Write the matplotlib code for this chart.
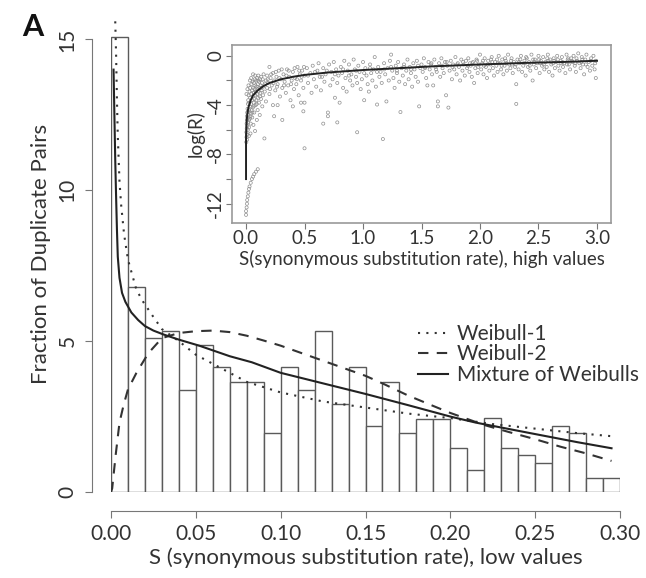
import matplotlib
matplotlib.use("Agg")
import matplotlib.pyplot as plt
from matplotlib.lines import Line2D

plt.rcParams['font.family'] = ['Lato', 'DejaVu Sans']

# histogram: bins of 0.01 on [0, 0.30]
bin_left = [i / 100 for i in range(30)]
bar_heights = [15.07, 6.8, 5.12, 5.33, 3.39, 4.87, 4.15, 3.64, 3.64, 1.94,
               4.15, 3.39, 5.33, 2.91, 4.15, 2.18, 3.64, 1.94, 2.42, 2.42,
               1.45, 0.73, 2.45, 1.45, 1.21, 0.95, 2.18, 1.94, 0.46, 0.46]

# fitted curves
weib1_x = [0.0025, 0.003, 0.0035, 0.004, 0.005, 0.006, 0.0077, 0.01, 0.012, 0.015, 0.019,
           0.025, 0.03, 0.04, 0.05, 0.065, 0.08, 0.1, 0.125, 0.15, 0.175, 0.2, 0.225,
           0.25, 0.275, 0.295]
weib1_y = [15.6, 14.5, 13.0, 11.8, 10.3, 9.5, 8.55, 7.7, 7.3, 6.7, 6.3,
           5.8, 5.4, 5.0, 4.55, 4.1, 3.65, 3.3, 3.0, 2.8, 2.6, 2.45, 2.25,
           2.1, 1.95, 1.85]

weib2_x = [0.0, 0.0007, 0.0027, 0.005, 0.0075, 0.01, 0.015, 0.022, 0.03, 0.04, 0.05,
           0.06, 0.07, 0.08, 0.09, 0.1, 0.11, 0.125, 0.14, 0.15, 0.16, 0.175, 0.19,
           0.2, 0.21, 0.22, 0.235, 0.25, 0.265, 0.28, 0.295]
weib2_y = [0.0, 0.12, 1.2, 2.3, 2.9, 3.4, 3.95, 4.6, 5.1, 5.27, 5.33,
           5.35, 5.3, 5.18, 5.02, 4.85, 4.65, 4.35, 4.05, 3.85, 3.6, 3.2, 2.85,
           2.62, 2.42, 2.22, 1.98, 1.75, 1.5, 1.28, 1.03]

mix_x = [0.0015, 0.002, 0.0025, 0.003, 0.0035, 0.004, 0.005, 0.0065, 0.0085, 0.012,
         0.016, 0.02, 0.025, 0.031, 0.04, 0.052, 0.07, 0.083, 0.1, 0.125, 0.15,
         0.175, 0.2, 0.215, 0.25, 0.275, 0.295]
mix_y = [14.0, 12.5, 11.0, 9.8, 8.7, 7.8, 7.1, 6.6, 6.3, 5.95,
         5.7, 5.5, 5.35, 5.22, 5.05, 4.85, 4.5, 4.3, 3.95, 3.6, 3.25,
         2.88, 2.5, 2.3, 1.92, 1.65, 1.45]

# inset: log(R) against S, high values
inset_tail = [(0.0, -12.9), (0.0, -12.6), (0.005, -12.3), (0.008, -12.0), (0.01, -11.7),
              (0.015, -11.4), (0.02, -11.1), (0.025, -10.8), (0.03, -10.6), (0.04, -10.3),
              (0.05, -10.0), (0.06, -9.8), (0.07, -9.6), (0.085, -9.4), (0.1, -9.2)]
inset_low = [(0.002, -7.0), (0.004, -6.6), (0.003, -6.2), (0.006, -5.9), (0.005, -5.5),
             (0.008, -5.2), (0.007, -4.9), (0.010, -4.6), (0.009, -6.8), (0.012, -6.4),
             (0.011, -5.7), (0.014, -5.1), (0.013, -4.3), (0.016, -3.9), (0.015, -6.0),
             (0.018, -5.4), (0.020, -4.8), (0.019, -3.6), (0.022, -3.2), (0.024, -6.5),
             (0.025, -5.8), (0.027, -4.4), (0.028, -3.8), (0.030, -2.9), (0.032, -5.1),
             (0.033, -4.1), (0.035, -3.4), (0.036, -2.6), (0.038, -6.3), (0.040, -5.5),
             (0.041, -4.7), (0.043, -3.9), (0.045, -3.1), (0.046, -2.3), (0.048, -4.4),
             (0.050, -3.6), (0.052, -2.8), (0.053, -5.0), (0.055, -2.1), (0.057, -4.2),
             (0.058, -3.3), (0.060, -1.5), (0.062, -2.6), (0.063, -5.6), (0.065, -3.8),
             (0.067, -3.0), (0.068, -2.2), (0.070, -4.6), (0.072, -3.5), (0.074, -2.7),
             (0.075, -1.9), (0.077, -6.1), (0.079, -3.2), (0.080, -2.4), (0.082, -4.0),
             (0.084, -2.9), (0.086, -2.0), (0.088, -3.6), (0.090, -2.5), (0.092, -5.2),
             (0.094, -3.1), (0.095, -1.8), (0.097, -2.7), (0.099, -4.4), (0.101, -2.3),
             (0.103, -3.4), (0.105, -1.6), (0.107, -2.9), (0.110, -3.8), (0.112, -2.1),
             (0.115, -2.6), (0.117, -4.8), (0.120, -1.9), (0.122, -3.0), (0.125, -2.4),
             (0.128, -3.5), (0.130, -1.7), (0.133, -2.8), (0.136, -2.2), (0.139, -4.1),
             (0.142, -1.9), (0.145, -3.2), (0.148, -2.5), (0.150, -1.5), (0.157, -6.7),
             (0.004, -3.1), (0.012, -2.7), (0.021, -2.4), (0.034, -2.0), (0.044, -1.8),
             (0.017, -4.5), (0.026, -5.2), (0.039, -4.9), (0.054, -4.6), (0.066, -4.1),
             (0.078, -1.6), (0.091, -3.9), (0.104, -2.0), (0.118, -3.3), (0.131, -2.6)]
inset_mid = [(0.16, -2.9), (0.17, -2.0), (0.17, -3.7), (0.18, -1.6), (0.18, -2.6),
             (0.19, -2.2), (0.20, -0.9), (0.20, -3.1), (0.21, -1.8), (0.22, -2.4),
             (0.23, -4.0), (0.23, -1.4), (0.24, -2.0), (0.24, -4.9), (0.25, -2.8),
             (0.26, -1.7), (0.27, -4.0), (0.27, -2.3), (0.28, -1.2), (0.29, -3.3),
             (0.30, -1.9), (0.31, -5.2), (0.31, -2.6), (0.32, -1.5), (0.33, -2.1),
             (0.34, -3.0), (0.35, -1.1), (0.36, -2.4), (0.37, -1.7), (0.38, -3.6),
             (0.39, -2.0), (0.40, -4.1), (0.40, -1.3), (0.41, -2.7), (0.42, -1.8),
             (0.43, -2.3), (0.44, -0.9), (0.45, -3.2), (0.46, -1.5), (0.47, -3.8),
             (0.47, -2.0), (0.48, -1.2), (0.49, -4.5), (0.49, -2.6), (0.50, -3.8),
             (0.50, -1.6), (0.50, -7.5), (0.165, -2.3), (0.185, -1.9), (0.205, -2.7),
             (0.215, -1.5), (0.235, -2.2), (0.255, -1.3), (0.265, -2.5), (0.285, -1.8),
             (0.305, -1.1), (0.325, -2.4), (0.345, -1.6), (0.365, -1.2), (0.385, -2.3),
             (0.415, -1.0), (0.435, -1.9), (0.455, -1.2), (0.475, -1.7), (0.495, -0.9)]
inset_upper = [(0.52, -1.0), (0.53, -2.2), (0.55, -1.4), (0.56, -3.0), (0.57, -0.8),
               (0.58, -1.9), (0.60, -2.5), (0.61, -1.2), (0.62, -0.6), (0.63, -1.7),
               (0.64, -2.8), (0.66, -5.5), (0.66, -1.0), (0.67, -2.1), (0.68, -1.5),
               (0.70, -4.6), (0.70, -4.9), (0.71, -0.7), (0.72, -2.4), (0.73, -1.3),
               (0.74, -1.9), (0.75, -0.5), (0.76, -3.4), (0.77, -1.1), (0.78, -5.4),
               (0.78, -2.2), (0.79, -1.6), (0.80, -3.8), (0.81, -0.9), (0.82, -1.4),
               (0.83, -2.6), (0.84, -0.4), (0.85, -1.8), (0.86, -2.9), (0.87, -1.2),
               (0.88, -0.7), (0.89, -2.0), (0.90, -1.5), (0.91, -2.4), (0.92, -0.3),
               (0.93, -1.1), (0.94, -1.7), (0.95, -6.2), (0.95, -2.2), (0.96, -0.8),
               (0.97, -1.3), (0.98, -2.7), (0.99, -1.9), (1.00, -0.5), (1.01, -3.6),
               (1.02, -1.0), (1.03, -1.6), (1.04, -2.3), (1.05, -2.9), (1.06, -0.7),
               (1.07, -1.4), (1.08, -2.0), (1.09, -1.1), (1.10, -0.1), (1.11, -2.5),
               (1.12, -3.95), (1.13, -0.9), (1.14, -1.7), (1.15, -1.3), (1.16, -2.2),
               (1.17, -6.75), (1.18, -0.6), (1.19, -1.5), (1.20, -3.7), (1.21, -1.0),
               (1.22, -2.0), (1.23, -0.4), (1.24, 0.1), (1.25, -1.2), (1.26, -1.8),
               (1.27, -2.6), (1.28, -0.8), (1.29, -1.4), (1.30, -0.5), (1.31, -2.1),
               (1.32, -4.56), (1.33, -1.0), (1.34, -1.6), (1.35, -0.7), (1.36, -2.3),
               (1.37, -1.2), (1.38, -0.3), (1.39, -1.9), (1.40, -0.9), (1.41, -1.4),
               (1.42, -2.5), (1.43, -0.6), (1.44, -1.1), (1.45, -1.7), (1.46, -0.4),
               (1.47, -2.1), (1.48, -4.1), (1.49, -1.0), (1.50, -0.7)]
inset_high = [(1.51, -1.3), (1.52, -0.2), (1.53, -0.9), (1.54, -1.8), (1.55, -2.4),
              (1.56, -0.5), (1.57, -1.1), (1.58, -0.7), (1.59, -1.5), (1.60, -2.4),
              (1.61, -0.3), (1.62, -0.9), (1.63, -1.3), (1.64, -3.7), (1.64, -4.1),
              (1.65, -0.6), (1.66, -1.7), (1.67, -0.2), (1.68, -1.0), (1.69, -1.4),
              (1.70, -0.5), (1.71, -3.2), (1.72, -0.8), (1.73, -4.2), (1.74, -1.2),
              (1.75, -0.4), (1.76, -1.9), (1.77, -0.7), (1.78, -1.1), (1.79, -0.1),
              (1.80, -1.5), (1.81, -0.6), (1.82, -0.9), (1.83, -2.0), (1.84, -0.3),
              (1.85, -1.2), (1.86, -0.7), (1.87, -1.6), (1.88, -0.4), (1.89, -1.0),
              (1.90, -0.2), (1.91, -1.3), (1.92, -0.8), (1.93, -1.7), (1.94, -0.5),
              (1.95, -2.2), (1.96, -1.0), (1.97, -0.3), (1.98, -1.4), (1.99, -0.7),
              (2.00, 0.1), (2.01, -1.1), (2.02, -0.6), (2.03, -1.5), (2.04, -0.2),
              (2.05, -0.9), (2.06, -1.8), (2.07, -0.4), (2.08, -1.2), (2.09, -0.7),
              (2.10, -0.1), (2.11, -1.0), (2.12, -1.6), (2.13, -0.5), (2.14, -0.8),
              (2.15, -1.3), (2.16, 0.0), (2.17, -0.6), (2.18, -1.1), (2.19, -0.3),
              (2.20, -1.5), (2.21, -0.8), (2.22, -0.4), (2.23, -1.2), (2.24, 0.1),
              (2.25, -0.7), (2.26, -1.0), (2.27, -0.2), (2.28, -1.4), (2.29, -0.5),
              (2.30, -0.9), (2.31, -3.9), (2.31, -2.3), (2.32, -0.3), (2.33, -1.1),
              (2.34, -0.6), (2.35, 0.0), (2.36, -1.3), (2.37, -0.8), (2.38, -0.4),
              (2.39, -1.6), (2.40, -0.2), (2.41, -0.9), (2.42, -0.5), (2.43, -1.2),
              (2.44, 0.1), (2.45, -2.0), (2.46, -0.7), (2.47, -0.3), (2.48, -1.0),
              (2.49, -0.6), (2.50, 0.0), (2.51, -1.4), (2.52, -0.4), (2.53, -0.8),
              (2.54, -0.1), (2.55, -1.1), (2.56, -0.5), (2.57, -0.9), (2.58, 0.1),
              (2.59, -1.3), (2.60, -0.3), (2.61, -0.7), (2.62, -1.6), (2.63, -0.2),
              (2.64, -1.0), (2.65, -0.5), (2.66, 0.0), (2.67, -0.8), (2.68, -1.2),
              (2.69, -0.4), (2.70, -0.1), (2.71, -0.9), (2.72, -0.6), (2.73, -1.4),
              (2.74, 0.1), (2.75, -0.3), (2.76, -0.7), (2.77, -1.1), (2.78, -0.2),
              (2.79, -0.5), (2.80, 0.0), (2.81, -0.8), (2.82, -1.3), (2.83, -0.4),
              (2.84, 0.2), (2.85, -0.6), (2.86, -1.0), (2.87, -0.1), (2.88, -0.7),
              (2.89, -1.5), (2.90, -0.3), (2.91, 0.1), (2.92, -0.9), (2.93, -0.5),
              (2.94, -1.2), (2.95, -0.2), (2.96, -0.8), (2.97, 0.0), (2.98, -1.1),
              (2.99, -1.8), (2.99, -0.4)]
# extra points filling the dense band just around the fitted line
inset_band = [(0.53, -1.6), (0.59, -1.3), (0.65, -1.7), (0.69, -1.2), (0.76, -1.5),
              (0.83, -1.1), (0.88, -1.6), (0.94, -1.2), (1.01, -1.4), (1.06, -1.0),
              (1.12, -1.3), (1.18, -1.1), (1.24, -0.9), (1.29, -1.2), (1.35, -0.9),
              (1.41, -1.1), (1.47, -0.8), (1.53, -1.0), (1.585, -0.6), (1.625, -1.1),
              (1.675, -0.8), (1.715, -0.5), (1.765, -0.9), (1.805, -0.7), (1.855, -0.5),
              (1.895, -0.8), (1.935, -0.6), (1.985, -0.9), (2.025, -0.4), (2.065, -0.7),
              (2.105, -0.5), (2.145, -0.3), (2.185, -0.8), (2.225, -0.6), (2.265, -0.4),
              (2.305, -0.7), (2.345, -0.3), (2.385, -0.6), (2.425, -0.8), (2.465, -0.5),
              (2.505, -0.3), (2.545, -0.7), (2.585, -0.4), (2.625, -0.6), (2.665, -0.3),
              (2.705, -0.5), (2.745, -0.7), (2.785, -0.4), (2.825, -0.2), (2.865, -0.5),
              (2.905, -0.7), (2.945, -0.4), (2.985, -0.6), (2.875, -0.3), (2.815, -0.6),
              (2.755, -0.2), (2.695, -0.6), (2.635, -0.4), (2.575, -0.2), (2.515, -0.6),
              (2.455, -0.3), (2.395, -0.1), (2.335, -0.5), (2.275, -0.7), (2.215, -0.2),
              (2.155, -0.6), (2.095, -0.3), (2.035, -0.8), (1.975, -0.4), (1.915, -0.6)]

fit_x = [0.0, 0.0, 0.005, 0.01, 0.02, 0.04, 0.06, 0.1, 0.15, 0.2, 0.3, 0.4, 0.5,
         0.7, 1.0, 1.3, 1.6, 2.0, 2.4, 2.7, 3.0]
fit_y = [-10.0, -6.5, -5.3, -4.8, -4.2, -3.6, -3.2, -2.8, -2.45, -2.2, -1.9, -1.7, -1.55,
         -1.35, -1.15, -1.0, -0.85, -0.7, -0.57, -0.5, -0.4]

TXT = '#333333'
AX = '#777777'

fig = plt.figure(figsize=(6.46, 5.78), dpi=100)

# ---- main panel ----
ax = fig.add_axes([111 / 646, 86 / 578, 509 / 646, 476.7 / 578])
ax.bar(bin_left, bar_heights, width=0.01, align='edge', facecolor='white',
       edgecolor='#5a5a5a', linewidth=1.0, zorder=1)
ax.plot(weib1_x, weib1_y, color='#333333', lw=1.5, ls=(0, (1, 3)), clip_on=False, zorder=3)
ax.plot(weib2_x, weib2_y, color='#333333', lw=1.5, ls=(0, (5, 4)), zorder=3)
ax.plot(mix_x, mix_y, color='#222222', lw=1.5, zorder=4)
ax.set_xlim(0, 0.30)
ax.set_ylim(0, 15.8)

for s in ['top', 'right']:
    ax.spines[s].set_visible(False)
ax.spines['left'].set_position(('outward', 13.7))
ax.spines['bottom'].set_position(('outward', 13.4))
ax.spines['left'].set_bounds(0, 15)
ax.spines['bottom'].set_bounds(0, 0.30)
for s in ['left', 'bottom']:
    ax.spines[s].set_color(AX)
ax.set_xticks([0, 0.05, 0.10, 0.15, 0.20, 0.25, 0.30])
ax.set_xticklabels(['0.00', '0.05', '0.10', '0.15', '0.20', '0.25', '0.30'])
ax.set_yticks([0, 5, 10, 15])
ax.set_yticklabels(['0', '5', '10', '15'], rotation=90, va='center')
ax.tick_params(length=5.3, color=AX, labelcolor=TXT, labelsize=15)
ax.tick_params(axis='x', pad=4)
ax.tick_params(axis='y', pad=5)
ax.set_xlabel('S (synonymous substitution rate), low values', fontsize=16, color=TXT, labelpad=3)
ax.set_ylabel('Fraction of Duplicate Pairs', fontsize=16, color=TXT, labelpad=5)

handles = [Line2D([], [], color='#333333', lw=1.5, ls=(0, (1, 3))),
           Line2D([], [], color='#333333', lw=1.5, ls=(0, (5, 4))),
           Line2D([], [], color='#222222', lw=1.5)]
ax.legend(handles, ['Weibull-1', 'Weibull-2', 'Mixture of Weibulls'],
          loc='upper left', bbox_to_anchor=(418 / 646, 1 - 324 / 578),
          bbox_transform=fig.transFigure, frameon=False, fontsize=15,
          handlelength=1.45, handletextpad=0.42, labelspacing=0.02, borderpad=0,
          borderaxespad=0, labelcolor=TXT)

fig.text(22 / 646, 1 - 27 / 578, 'A', fontsize=22, fontweight='bold', color='#111111',
         va='center', ha='left')

# ---- inset ----
ins = fig.add_axes([232 / 646, 1 - 222.6 / 578, 379 / 646, 177.6 / 578])
pts = inset_tail + inset_low + inset_mid + inset_upper + inset_high + inset_band
ins.scatter([p[0] for p in pts], [p[1] for p in pts], s=5, facecolors='none',
            edgecolors='#8f8f8f', linewidths=0.5, zorder=2)
ins.plot(fit_x, fit_y, color='#222222', lw=1.4, zorder=3)
ins.set_xlim(-0.12, 3.12)
ins.set_ylim(-13.53, 0.88)
for s in ins.spines.values():
    s.set_color('#999999')
    s.set_linewidth(1.2)
ins.set_xticks([0, 0.5, 1.0, 1.5, 2.0, 2.5, 3.0])
ins.set_xticklabels(['0.0', '0.5', '1.0', '1.5', '2.0', '2.5', '3.0'])
ins.set_yticks([0, -2, -4, -6, -8, -10, -12])
ins.set_yticklabels(['0', '', '-4', '', '-8', '', '-12'], rotation=90, va='center')
ins.tick_params(length=4, color=AX, labelcolor=TXT, labelsize=13.5)
ins.tick_params(axis='x', pad=1.5)
ins.tick_params(axis='y', pad=1.5)
ins.set_xlabel('S(synonymous substitution rate), high values', fontsize=13.5, color=TXT, labelpad=2)
ins.set_ylabel('log(R)', fontsize=13.5, color=TXT, labelpad=2)

fig.savefig('out.png', dpi=100)
